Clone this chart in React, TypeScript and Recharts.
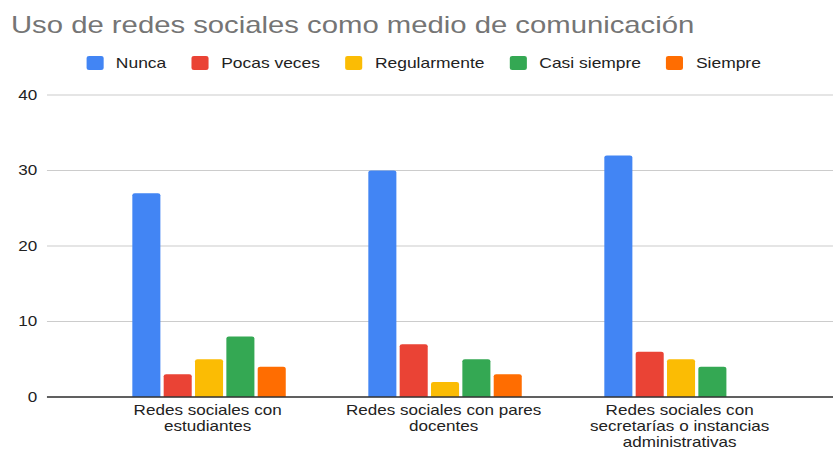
import React from 'react'
import { BarChart, Bar, XAxis, YAxis, CartesianGrid, Text } from 'recharts'

// Chart values
const categories = [
  'Redes sociales con estudiantes',
  'Redes sociales con pares docentes',
  'Redes sociales con secretarías o instancias administrativas',
]
const seriesNames = ['Nunca', 'Pocas veces', 'Regularmente', 'Casi siempre', 'Siempre']
const nunca = [27, 30, 32]
const pocasVeces = [3, 7, 6]
const regularmente = [5, 2, 5]
const casiSiempre = [8, 5, 4]
const siempre = [4, 3, 0]
const yTicks = [0, 10, 20, 30, 40]

const COLORS = ['#4285F4', '#EA4335', '#FBBC04', '#34A853', '#FF6D01']
const KEYS = ['nunca', 'pocasVeces', 'regularmente', 'casiSiempre', 'siempre']

const data = categories.map((cat, i) => ({
  cat,
  nunca: nunca[i],
  pocasVeces: pocasVeces[i],
  regularmente: regularmente[i],
  casiSiempre: casiSiempre[i],
  siempre: siempre[i],
}))

const FONT = '"Liberation Sans", Arial, sans-serif'

// the reference picture is stretched sideways, so the chart is drawn narrower and scaled in x
const OUT_W = 833
const W = 683
const SX = OUT_W / W

function XTick(props: any) {
  const { x, y, payload } = props
  // wrap width is measured on screen (after scaling)
  return (
    <Text
      x={x}
      y={y}
      width={215}
      textAnchor="middle"
      verticalAnchor="start"
      lineHeight={16}
      fontSize={14}
      fontFamily={FONT}
      fill="#222"
      style={{ fontSize: 14, fontFamily: FONT }}
    >
      {payload.value}
    </Text>
  )
}

export default function App() {
  return (
    <div style={{ width: OUT_W, height: 450, overflow: 'hidden', position: 'relative', background: '#fff' }}>
      <style>{'body{margin:0}'}</style>
      <div style={{ width: W, height: 450, position: 'relative', transform: `scaleX(${SX})`, transformOrigin: '0 0' }}>
        {/* Title */}
        <div
          style={{
            position: 'absolute', left: 9, top: 11, fontFamily: FONT, fontSize: 24,
            color: '#757575', whiteSpace: 'nowrap',
          }}
        >
          Uso de redes sociales como medio de comunicación
        </div>

        {/* Legend */}
        <div
          style={{
            position: 'absolute', left: 70.5, top: 55.5, height: 14, display: 'flex',
            alignItems: 'center', fontFamily: FONT, fontSize: 14.3, color: '#222', whiteSpace: 'nowrap',
          }}
        >
          {seriesNames.map((name, i) => (
            <div key={name} style={{ display: 'flex', alignItems: 'center', marginRight: 20.5 }}>
              <div style={{ width: 14, height: 14, borderRadius: 2, background: COLORS[i], marginRight: 10.5 }} />
              <span>{name}</span>
            </div>
          ))}
        </div>

        <BarChart
          width={W}
          height={450}
          data={data}
          margin={{ top: 95, right: 0, left: 0, bottom: 0 }}
          barCategoryGap={35}
          barGap={2.7}
        >
          <CartesianGrid vertical={false} stroke="#cccccc" />
          <XAxis
            dataKey="cat"
            interval={0}
            height={53}
            tickLine={false}
            axisLine={{ stroke: '#333333', strokeWidth: 1.5 }}
            padding={{ left: 35, right: 29 }}
            tick={<XTick />}
          />
          <YAxis
            type="number"
            domain={[0, 40]}
            ticks={yTicks}
            width={38.5}
            axisLine={false}
            tickLine={false}
            tick={{ fill: '#222', fontSize: 14, fontFamily: FONT }}
          />
          {KEYS.map((k, i) => (
            <Bar
              key={k}
              dataKey={k}
              name={seriesNames[i]}
              fill={COLORS[i]}
              radius={[2, 2, 0, 0]}
              isAnimationActive={false}
            />
          ))}
        </BarChart>
      </div>
    </div>
  )
}
